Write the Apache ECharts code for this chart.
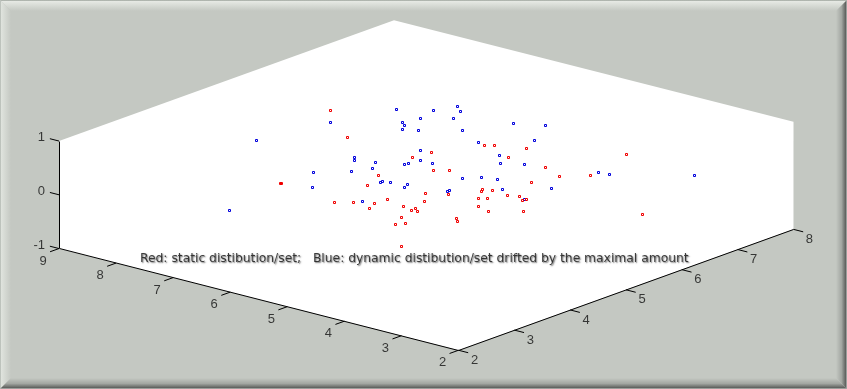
<!DOCTYPE html>
<html>
<head>
<meta charset="utf-8">
<style>
  html, body { margin: 0; padding: 0; background: #c4c8c2; }
  #chart { width: 847px; height: 389px; }
</style>
<script src="https://cdn.jsdelivr.net/npm/echarts@6/dist/echarts.min.js"></script>
</head>
<body>
<div id="chart"></div>
<script>
// static set (all points sit on the z = 0 plane)
const redX = [8.610, 7.667, 6.267, 6.430, 7.046, 7.035, 6.095, 5.950, 5.755, 5.511, 5.420, 5.491, 5.127, 4.947, 4.931, 4.841, 4.835, 4.623, 4.697, 4.009, 6.032, 5.929, 5.515, 5.443, 4.779, 6.377, 5.844, 5.680, 4.495, 5.006, 5.271, 5.054, 4.800, 4.753, 4.668, 4.584, 4.492, 4.372, 4.220, 4.075, 4.063, 4.357, 4.112, 3.752, 4.241, 4.145, 4.316, 4.379, 4.088, 2.444];
const redY = [6.464, 5.805, 4.928, 5.704, 3.970, 3.977, 4.556, 3.817, 3.958, 4.084, 3.901, 4.297, 4.212, 4.242, 4.154, 4.170, 3.877, 3.732, 3.628, 3.033, 6.587, 6.661, 6.811, 6.415, 6.399, 5.990, 5.481, 5.600, 5.858, 4.894, 4.753, 4.513, 5.292, 5.226, 5.337, 5.000, 5.067, 5.302, 5.362, 5.268, 5.326, 4.767, 4.696, 4.955, 4.255, 4.175, 7.377, 6.240, 6.499, 5.750];

// dynamic set
const blueX = [7.961, 7.529, 7.423, 7.458, 8.269, 7.330, 7.137, 7.026, 6.940, 6.667, 6.547, 6.262, 6.300, 6.313, 6.527, 7.020, 6.658, 6.603, 6.047, 6.055, 5.944, 5.712, 5.658, 5.691, 7.419, 7.552, 7.246, 7.119, 6.360, 5.974, 6.685, 6.179, 5.660, 5.593, 5.355, 5.080, 6.053, 5.318, 5.151, 4.930, 4.594, 4.119, 5.102, 5.110, 4.083, 4.092, 3.922, 3.020, 8.516, 6.801];
const blueY = [6.982, 6.649, 6.576, 6.898, 6.115, 6.445, 6.534, 5.274, 5.187, 5.285, 5.967, 5.676, 5.500, 5.441, 5.088, 4.534, 4.845, 4.090, 4.740, 4.783, 4.814, 4.881, 4.772, 4.053, 7.522, 7.227, 7.398, 7.143, 7.442, 7.621, 6.860, 6.630, 7.103, 6.407, 6.182, 6.330, 5.678, 5.463, 5.633, 5.694, 5.440, 5.832, 4.974, 5.018, 5.312, 6.646, 6.669, 7.270, 5.043, 2.806];

const xTicks = [2, 3, 4, 5, 6, 7, 8, 9];
const yTicks = [2, 3, 4, 5, 6, 7, 8];
const zTicks = [-1, 0, 1];

const note = 'Red: static distibution/set;   Blue: dynamic distibution/set drifted by the maximal amount';

const W = 847;
const H = 389;
const X_MIN = 2, X_MAX = 9, Y_MIN = 2, Y_MAX = 8, Z_MIN = -1, Z_MAX = 1;

// view of the 3D box: screen position of (2,2,0) and one unit along each data axis
const ORIGIN = [458.5, 296.5];
const UX = [-57.07, -14.53];
const UY = [55.83, -20.15];
const UZ = [0, -53.75];

function project(x, y, z) {
  const a = x - X_MIN, b = y - Y_MIN;
  return [
    ORIGIN[0] + a * UX[0] + b * UY[0] + z * UZ[0],
    ORIGIN[1] + a * UX[1] + b * UY[1] + z * UZ[1],
  ];
}

// markers and axis corners land on whole pixels, like the original bitmap
const crisp = (p) => [Math.floor(p[0]) + 0.5, Math.floor(p[1]) + 0.5];
const projectPoint = (x, y) => crisp(project(x, y, 0));
const shift = (p, d) => [p[0] + d[0], p[1] + d[1]];

const wall = [
  project(X_MAX, Y_MIN, Z_MAX),
  project(X_MAX, Y_MAX, Z_MAX),
  project(X_MIN, Y_MAX, Z_MAX),
  project(X_MIN, Y_MAX, Z_MIN),
  project(X_MIN, Y_MIN, Z_MIN),
  project(X_MAX, Y_MIN, Z_MIN),
];

const axisLines = [
  project(X_MAX, Y_MIN, Z_MAX),
  project(X_MAX, Y_MIN, Z_MIN),
  project(X_MIN, Y_MIN, Z_MIN),
  project(X_MIN, Y_MAX, Z_MIN),
].map(crisp);

// tick marks: pairs split by a gap so one line series can carry them all
const tickPts = [];
function addTick(p, d) {
  tickPts.push(p, shift(p, d), ['-', '-']);
}
const xTickDir = [-UY[0] * 0.16, -UY[1] * 0.16];
const yTickDir = [-UX[0] * 0.17, -UX[1] * 0.17];
const zTickDir = [UX[0] * 0.16, UX[1] * 0.16];
xTicks.forEach((t) => addTick(project(t, Y_MIN, Z_MIN), xTickDir));
yTicks.forEach((t) => addTick(project(X_MIN, t, Z_MIN), yTickDir));
zTicks.forEach((t) => addTick(project(X_MAX, Y_MIN, t), zTickDir));

const tickLabels = [];
xTicks.forEach((t) => tickLabels.push({ value: shift(project(t, Y_MIN, Z_MIN), [-16, 12.5]), name: String(t) }));
yTicks.forEach((t) => tickLabels.push({ value: shift(project(X_MIN, t, Z_MIN), [16, 10]), name: String(t) }));
const zLabels = zTicks.map((t) => ({ value: shift(project(X_MAX, Y_MIN, t), [-14, -3.5]), name: String(t) }));

// hollow 3px squares; drawn by hand so the corners stay sharp
function markerSeries(name, xs, ys, color, z) {
  return {
    name,
    type: 'custom',
    z,
    silent: true,
    animation: false,
    clip: false,
    data: xs.map((x, i) => projectPoint(x, ys[i])),
    renderItem: (params, api) => {
      const c = api.coord([api.value(0), api.value(1)]);
      return {
        type: 'rect',
        shape: { x: c[0] - 1, y: c[1] - 1, width: 2, height: 2 },
        style: { fill: 'none', stroke: color, lineWidth: 1, lineJoin: 'miter' },
      };
    },
  };
}

const labelFont = { fontFamily: '"Liberation Sans", sans-serif', fontSize: 13, color: '#111' };

// window bevel round the figure
function bevel(points, x0, y0, x1, y1, stops) {
  return {
    type: 'polygon',
    silent: true,
    shape: { points },
    style: {
      fill: {
        type: 'linear', x: x0, y: y0, x2: x1, y2: y1, global: false,
        colorStops: stops,
      },
    },
  };
}
const B = 11;
const lightStops = [
  { offset: 0, color: '#8e968e' },
  { offset: 0.12, color: '#e6e9e4' },
  { offset: 1, color: '#c4c8c2' },
];
const leftStops = [
  { offset: 0, color: '#a9b0a9' },
  { offset: 0.12, color: '#dfe3dd' },
  { offset: 1, color: '#c4c8c2' },
];
const darkStops = [
  { offset: 0, color: '#c4c8c2' },
  { offset: 0.5, color: '#a3a7a2' },
  { offset: 0.88, color: '#5f625f' },
  { offset: 0.92, color: '#6a6d6a' },
  { offset: 1, color: '#dcdedb' },
];
const frame = [
  bevel([[0, 0], [W, 0], [W - B, B], [B, B]], 0, 0, 0, 1, lightStops),
  bevel([[0, 0], [B, B], [B, H - B], [0, H]], 0, 0, 1, 0, leftStops),
  bevel([[W, 0], [W, H], [W - B, H - B], [W - B, B]], 0, 0, 1, 0, darkStops),
  bevel([[0, H], [B, H - B], [W - B, H - B], [W, H]], 0, 0, 0, 1, darkStops),
];

const chart = echarts.init(document.getElementById('chart'), null, { renderer: 'canvas' });

chart.setOption({
  animation: false,
  backgroundColor: '#c4c8c2',
  grid: { left: 0, right: 0, top: 0, bottom: 0 },
  xAxis: { type: 'value', min: 0, max: W, show: false },
  yAxis: { type: 'value', min: 0, max: H, inverse: true, show: false },
  graphic: frame,
  series: [
    {
      type: 'custom',
      z: 1,
      silent: true,
      data: [0],
      renderItem: (params, api) => ({
        type: 'polygon',
        shape: { points: wall.map((p) => api.coord(p)) },
        style: { fill: '#ffffff' },
      }),
    },
    {
      type: 'line',
      z: 2,
      silent: true,
      symbol: 'none',
      lineStyle: { color: '#000', width: 1 },
      data: axisLines,
    },
    {
      type: 'line',
      z: 2,
      silent: true,
      symbol: 'none',
      connectNulls: false,
      lineStyle: { color: '#000', width: 1 },
      data: tickPts,
    },
    {
      type: 'scatter',
      z: 3,
      silent: true,
      symbolSize: 0,
      label: {
        show: true,
        position: 'inside',
        align: 'center',
        verticalAlign: 'middle',
        formatter: (p) => p.name,
        ...labelFont,
      },
      data: tickLabels,
    },
    {
      type: 'scatter',
      z: 3,
      silent: true,
      symbolSize: 0,
      label: {
        show: true,
        position: 'inside',
        align: 'right',
        verticalAlign: 'middle',
        formatter: (p) => p.name,
        ...labelFont,
      },
      data: zLabels,
    },
    markerSeries('Blue', blueX, blueY, '#0000dc', 4),
    markerSeries('Red', redX, redY, '#f00000', 5),
    {
      type: 'scatter',
      z: 6,
      silent: true,
      symbolSize: 0,
      label: {
        show: true,
        position: 'inside',
        align: 'left',
        verticalAlign: 'middle',
        formatter: (p) => p.name,
        fontFamily: '"DejaVu Sans", sans-serif',
        fontSize: 12.3,
        color: '#111',
        textShadowColor: 'rgba(0,0,0,0.7)',
        textShadowBlur: 1.5,
        textShadowOffsetX: 1,
        textShadowOffsetY: 1,
      },
      data: [{ value: shift(project(X_MAX, Y_MIN, Z_MIN), [81, 10.5]), name: note }],
    },
  ],
});

window.addEventListener('resize', () => chart.resize());
</script>
</body>
</html>
